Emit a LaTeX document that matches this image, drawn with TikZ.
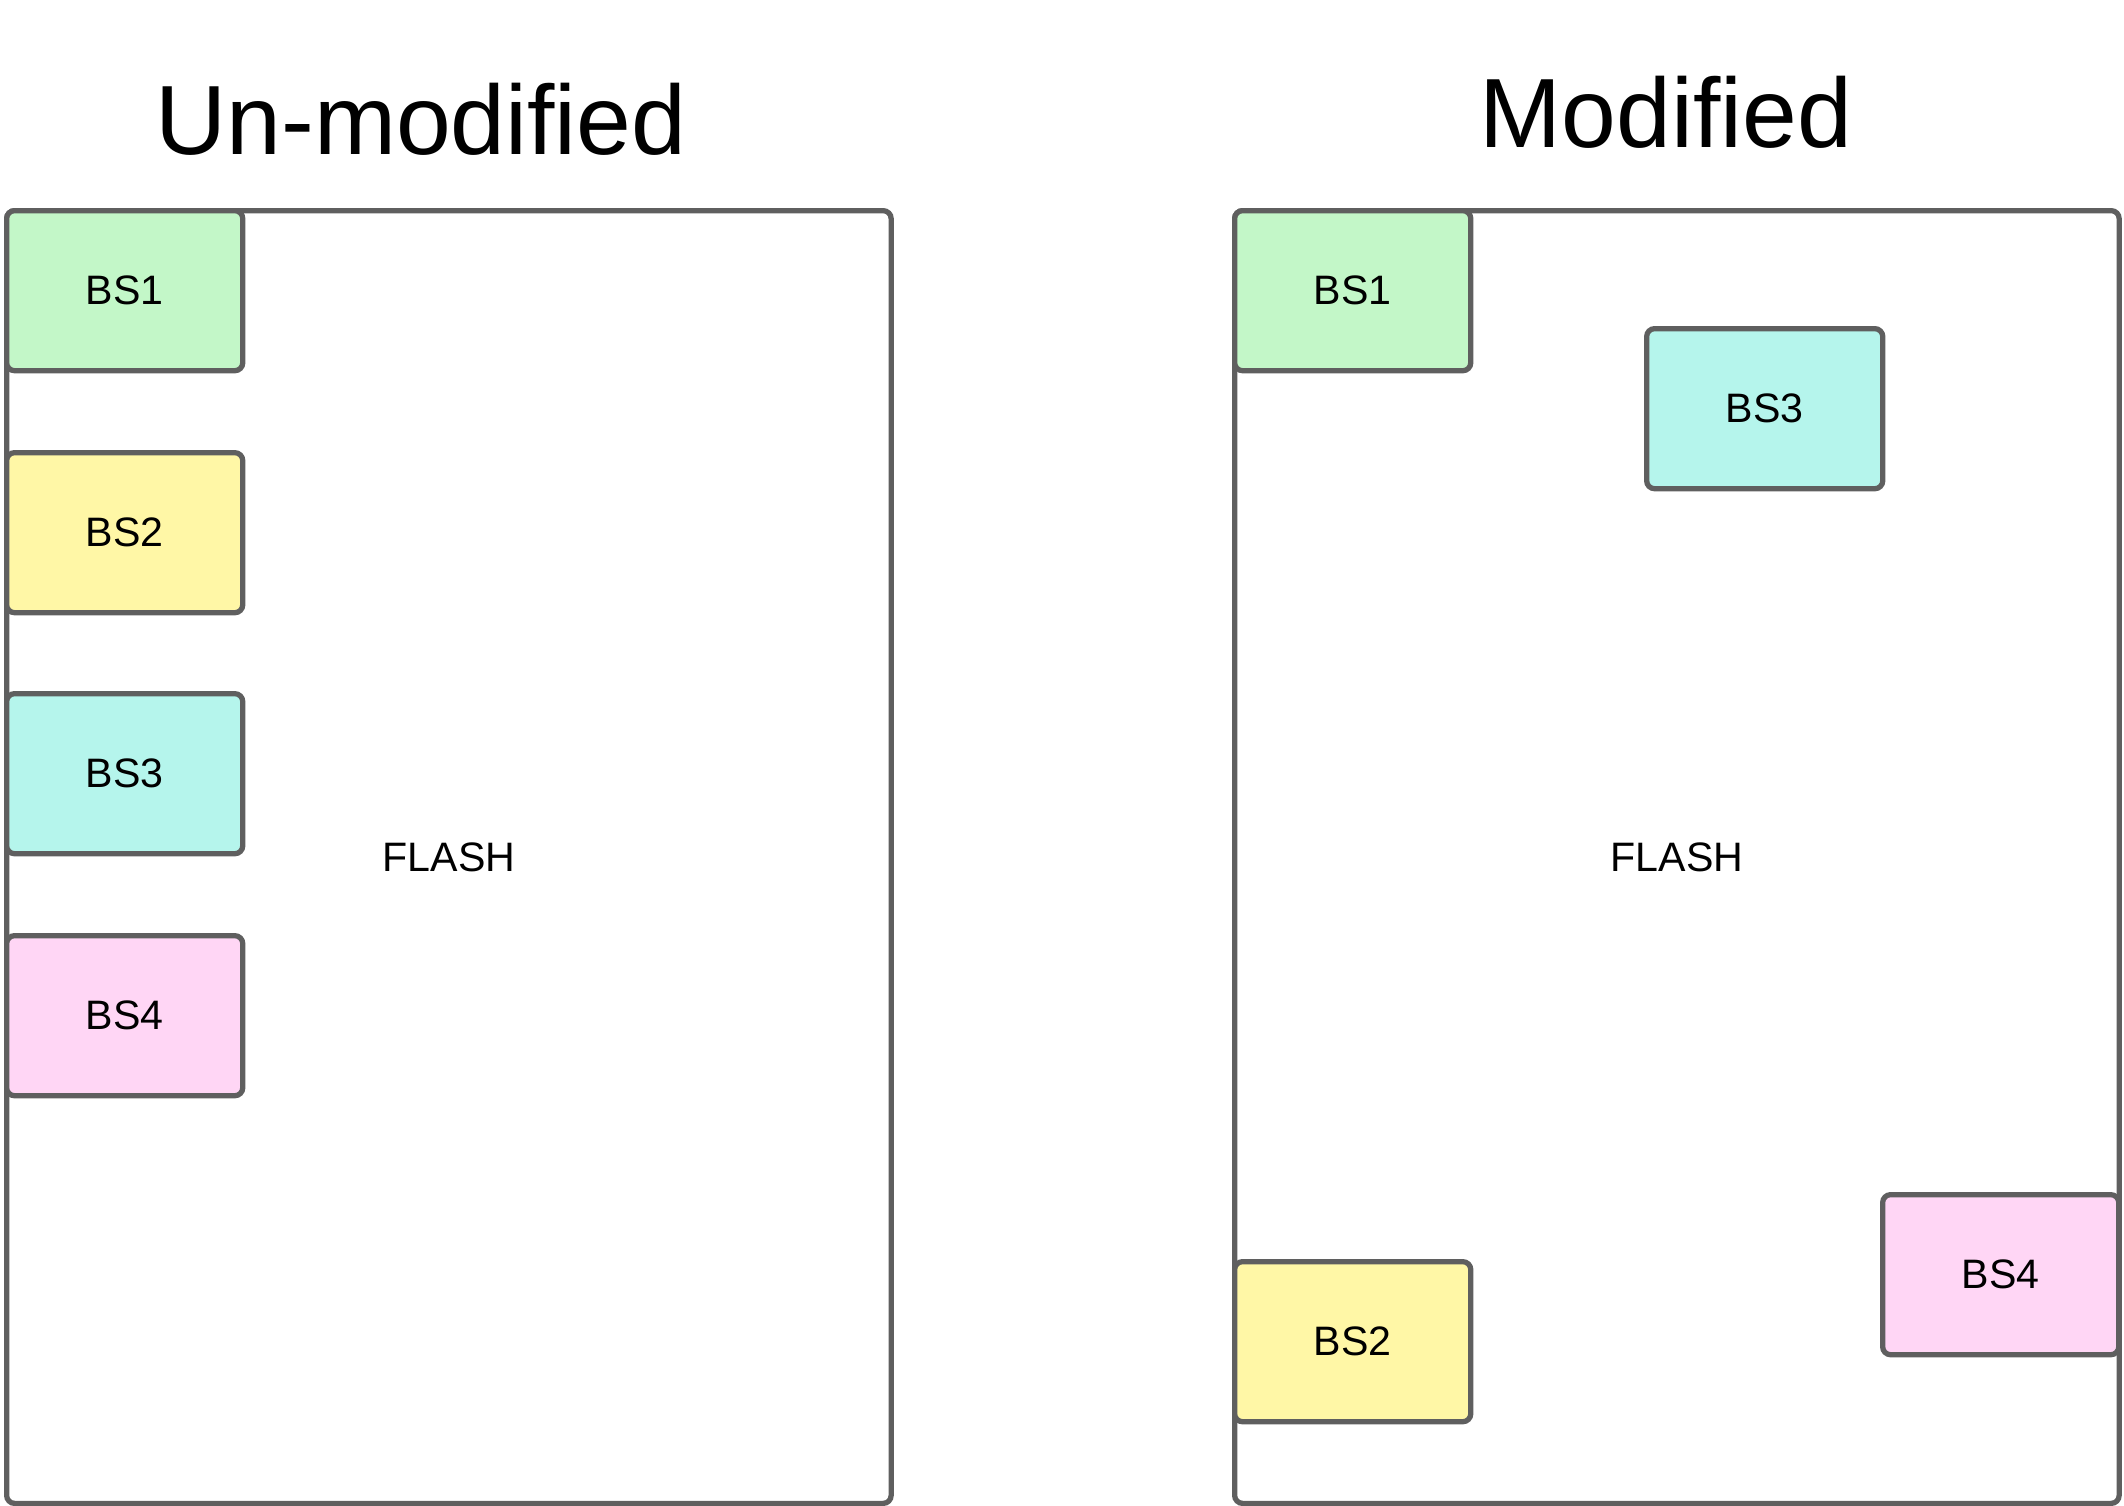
\documentclass[tikz,border=0pt]{standalone}
\usepackage{fontspec}
\setmainfont{Liberation Sans}
\usepackage{tikz}
\usetikzlibrary{positioning}
\definecolor{edgegray}{HTML}{5F5F5F}
\definecolor{bsgreen}{HTML}{C3F7C8}
\definecolor{bsyellow}{HTML}{FFF7A6}
\definecolor{bscyan}{HTML}{B5F5EC}
\definecolor{bspink}{HTML}{FFD6F5}
\tikzset{
title/.style={ % Sets the big headings
anchor=base,
inner sep=0pt,
font=\fontsize{28}{34}\selectfont},
flash/.style={ % Sets the outer memory box
draw=edgegray,
line width=1.5pt,
rounded corners=0.08cm,
anchor=north west,
minimum width=8.84cm,
minimum height=12.92cm,
font=\fontsize{11.7}{14}\selectfont},
block/.style={ % Sets the boot stage boxes
draw=edgegray,
line width=1.5pt,
rounded corners=0.08cm,
anchor=north west,
inner sep=0pt,
minimum width=2.36cm,
minimum height=1.6cm,
font=\fontsize{11.7}{14}\selectfont}}

\begin{document}
\begin{tikzpicture}[x=0.01cm, y=-0.01cm]
\useasboundingbox (0,0) rectangle (2124,1506);
\node[title] (tleft) at (421,154) {Un-modified};
\node[title] (tright) at (1666,147) {Modified};
\node[flash] (fleft) at (4,208) {FLASH};
\node[flash] (fright) at (1232,208) {FLASH};
\node[block, fill=bsgreen] (l1) at (4,208) {BS1};
\node[block, fill=bsyellow] (l2) at (4,450) {BS2};
\node[block, fill=bscyan] (l3) at (4,691) {BS3};
\node[block, fill=bspink] (l4) at (4,933) {BS4};
\node[block, fill=bsgreen] (r1) at (1232,208) {BS1};
\node[block, fill=bscyan] (r3) at (1644,326) {BS3};
\node[block, fill=bsyellow] (r2) at (1232,1259) {BS2};
\node[block, fill=bspink] (r4) at (1880,1192) {BS4};
\end{tikzpicture}
\end{document}
